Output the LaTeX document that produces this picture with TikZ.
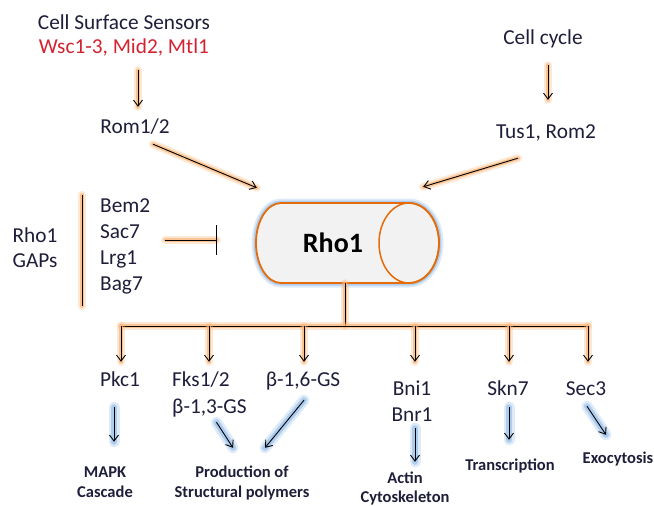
\documentclass[tikz,border=0pt]{standalone}
\usepackage{fontspec}
\setmainfont{Carlito}
\usetikzlibrary{arrows.meta,calc}
\definecolor{ink}{HTML}{1E1E3A}
\definecolor{sensred}{HTML}{D42230}
\definecolor{rimorange}{HTML}{E46C0A}
\definecolor{glowo}{HTML}{F9B476}
\definecolor{glowb}{HTML}{8DB8E8}
\definecolor{bodyfill}{HTML}{F2F2F2}
\tikzset{
  lbl/.style={font=\fontsize{21.3}{25}\selectfont, text=ink, inner sep=0pt,
    text height=14pt, text depth=4pt},
  outcome/.style={font=\fontsize{16.5}{20}\selectfont\bfseries, text=ink,
    inner sep=0pt, text height=11pt, text depth=3pt},
  oglow/.style={
    preaction={draw=glowo, line width=8pt, opacity=.3, -, line cap=round},
    preaction={draw=glowo, line width=4pt, opacity=.7, -, line cap=round}},
  bglow/.style={
    preaction={draw=glowb, line width=11pt, opacity=.3, -, line cap=round},
    preaction={draw=glowb, line width=6pt, opacity=.6, -, line cap=round}},
  arr/.style={-{Straight Barb[length=6pt,width=9pt]}, draw=black, line width=0.9pt},
  tree/.style={draw=black, line width=1pt},
}
\begin{document}
\begin{tikzpicture}[x=1pt,y=-1pt]
\useasboundingbox (0,0) rectangle (654,506);

% upstream regulators
\node[lbl] (sens) at (124,25) {Cell Surface Sensors};
\node[lbl, text=sensred] (wsc) at (124,48) {Wsc1-3, Mid2, Mtl1};
\node[lbl] (rom) at (135,128) {Rom1/2};
\node[lbl] (cyc) at (543,40) {Cell cycle};
\node[lbl] (tus) at (546,133) {Tus1, Rom2};

% GAPs
\node[lbl] (gap1) at (35,237) {Rho1};
\node[lbl] (gap2) at (35,262) {GAPs};
\node[lbl, anchor=west] (bem) at (100,207) {Bem2};
\node[lbl, anchor=west] (sac) at (100,233) {Sac7};
\node[lbl, anchor=west] (lrg) at (100,259) {Lrg1};
\node[lbl, anchor=west] (bag) at (100,285) {Bag7};
\coordinate (gaptop) at (82,195);
\coordinate (gapbot) at (82,306);
\draw[tree, oglow] (gaptop) -- (gapbot);

% Rho1 cylinder
\node[minimum width=183pt, minimum height=80pt, inner sep=0pt] (rho) at (347.5,243) {};
\draw[glowb, line width=9pt, opacity=.3]
  (281,203) -- (409,203) arc[start angle=-90, end angle=90, x radius=30, y radius=40]
  -- (281,283) arc[start angle=90, end angle=270, x radius=25, y radius=40] -- cycle;
\draw[glowb, line width=5pt, opacity=.55]
  (281,203) -- (409,203) arc[start angle=-90, end angle=90, x radius=30, y radius=40]
  -- (281,283) arc[start angle=90, end angle=270, x radius=25, y radius=40] -- cycle;
\draw[draw=rimorange, fill=bodyfill, line width=1.8pt]
  (281,203) -- (409,203) arc[start angle=-90, end angle=90, x radius=30, y radius=40]
  -- (281,283) arc[start angle=90, end angle=270, x radius=25, y radius=40] -- cycle;
\draw[draw=rimorange, line width=1.5pt] (409,243) ellipse[x radius=30, y radius=40];
\node[font=\fontsize{28}{32}\selectfont\bfseries, text=black, inner sep=0pt] (rholab) at (333,243) {Rho1};

% inputs into Rho1
\draw[arr, oglow] ($(wsc.south)+(14,13)$) -- ($(rom.north)+(3,-12)$);
\draw[arr, oglow] ($(rom.south)+(18,7)$) -- ($(rho.north west)+(1,-15)$);
\draw[arr, oglow] ($(cyc.south)+(5,16)$) -- ($(tus.north)+(2,-24)$);
\draw[arr, oglow] ($(tus.south)+(-28,16)$) -- ($(rho.north east)+(-16,-16)$);
\draw[line width=1pt, -{Bar[width=30pt]}, oglow] ($(sac.east)+(25,7)$) -- ($(rho.west)+(-39,-3)$);

% downstream effectors
\node[lbl] (pkc) at (120,381) {Pkc1};
\node[lbl, anchor=west] (fks) at (172,381) {Fks1/2};
\node[lbl, anchor=west] (b13) at (172,408) {β-1,3-GS};
\node[lbl] (b16) at (303,381) {β-1,6-GS};
\node[lbl] (bni) at (412,390) {Bni1};
\node[lbl] (bnr) at (412,416) {Bnr1};
\node[lbl] (skn) at (508,390) {Skn7};
\node[lbl] (sec) at (586,390) {Sec3};

\coordinate (hub) at (345,326);
\coordinate (t1) at (121,326);
\coordinate (t2) at (209,326);
\coordinate (t3) at (304,326);
\coordinate (t4) at (415,326);
\coordinate (t5) at (509,326);
\coordinate (t6) at (588,326);
\draw[tree, oglow] (rho.south -| hub) -- (hub);
\draw[tree, oglow] (t1) -- (t6);
\draw[arr, oglow, shorten >=10pt] (t1) -- (t1 |- pkc.north);
\draw[arr, oglow, shorten >=10pt] (t2) -- (t2 |- fks.north);
\draw[arr, oglow, shorten >=10pt] (t3) -- (t3 |- b16.north);
\draw[arr, oglow, shorten >=19pt] (t4) -- (t4 |- bni.north);
\draw[arr, oglow, shorten >=19pt] (t5) -- (t5 |- skn.north);
\draw[arr, oglow, shorten >=19pt] (t6) -- (t6 |- sec.north);

% outcomes
\node[outcome] (mapk1) at (105,473) {MAPK};
\node[outcome] (mapk2) at (105,493) {Cascade};
\node[outcome] (prod1) at (242,473) {Production of};
\node[outcome] (prod2) at (242,493) {Structural polymers};
\node[outcome] (act1) at (405,479) {Actin};
\node[outcome] (act2) at (405,498) {Cytoskeleton};
\node[outcome] (trans) at (510,466) {Transcription};
\node[outcome] (exo) at (618,459) {Exocytosis};

\draw[arr, bglow] ($(pkc.south)+(-6,17)$) -- ($(mapk1.north)+(9,-24)$);
\draw[arr, bglow] ($(b13.south)+(7,5)$) -- ($(prod1.north)+(-9,-18)$);
\draw[arr, bglow] ($(b16.south)+(1,10)$) -- ($(prod1.north)+(23,-18)$);
\draw[arr, bglow] ($(bnr.south)+(3,3)$) -- ($(act1.north)+(10,-10)$);
\draw[arr, bglow] ($(skn.south)+(1,8)$) -- ($(trans.north)+(-1,-19)$);
\draw[arr, bglow] ($(sec.south)+(1,7)$) -- ($(exo.north)+(-12,-17)$);
\end{tikzpicture}
\end{document}
